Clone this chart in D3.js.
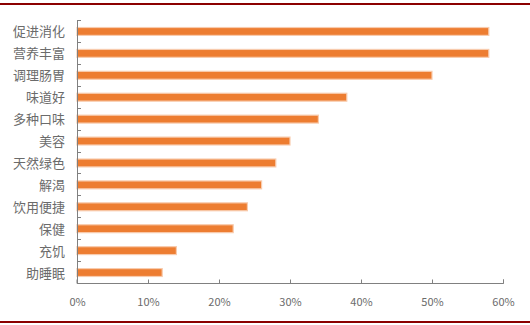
<!DOCTYPE html>
<html>
<head>
<meta charset="utf-8">
<script src="https://cdn.jsdelivr.net/npm/d3@7"></script>
<style>
  html, body { margin: 0; padding: 0; background: #fff; }
  svg { display: block; }
</style>
</head>
<body>
<svg id="chart" width="530" height="325"></svg>
<script>
// Reasons for drinking, share of respondents (%)
const categories = ["促进消化", "营养丰富", "调理肠胃", "味道好", "多种口味", "美容",
                    "天然绿色", "解渴", "饮用便捷", "保健", "充饥", "助睡眠"];
const shares = [58, 58, 50, 38, 34, 30, 28, 26, 24, 22, 14, 12];
const tickValues = [0, 10, 20, 30, 40, 50, 60];

const svg = d3.select("#chart");
const W = 530, H = 325;
const margin = { left: 77, right: 27, top: 20, bottom: 42 };
const cjk = "'Noto Sans CJK SC', 'Microsoft YaHei', sans-serif";

// Frame rules at top and bottom
svg.append("rect").attr("x", 0).attr("y", 3).attr("width", W).attr("height", 2).attr("fill", "#8B0000");
svg.append("rect").attr("x", 0).attr("y", 321).attr("width", W).attr("height", 2).attr("fill", "#8B0000");

const x = d3.scaleLinear().domain([0, 60]).range([margin.left, W - margin.right]);
const y = d3.scaleBand().domain(categories).range([margin.top, H - margin.bottom]).paddingInner(0.64).paddingOuter(0.32);
const band = d3.scaleBand().domain(categories).range([margin.top, H - margin.bottom]);

// Bars with a soft light edge
svg.append("g").selectAll("rect").data(categories).join("rect")
  .attr("x", x(0))
  .attr("y", (d) => y(d) + 0.5)
  .attr("width", (d, i) => x(shares[i]) - x(0))
  .attr("height", y.bandwidth())
  .attr("fill", "#ED7D31")
  .attr("stroke", "#F8CBAD")
  .attr("stroke-width", 1.2);

// Category axis (left) with inward ticks at band boundaries
const axisColor = "#808080";
svg.append("line")
  .attr("x1", x(0) + 0.5).attr("x2", x(0) + 0.5)
  .attr("y1", margin.top).attr("y2", H - margin.bottom)
  .attr("stroke", axisColor).attr("stroke-width", 1);
const boundaries = categories.map((d) => band(d));
svg.append("g").selectAll("line").data(boundaries).join("line")
  .attr("x1", x(0)).attr("x2", x(0) + 4)
  .attr("y1", (d) => Math.round(d) + 0.5).attr("y2", (d) => Math.round(d) + 0.5)
  .attr("stroke", axisColor);

svg.append("g").selectAll("text").data(categories).join("text")
  .attr("x", 65)
  .attr("y", (d) => band(d) + band.bandwidth() / 2)
  .attr("text-anchor", "end")
  .attr("dominant-baseline", "central")
  .attr("font-family", cjk)
  .attr("font-size", 13)
  .attr("fill", "#6b6b6b")
  .text((d) => d);

// Value axis (bottom) with inward ticks
const xAxis = d3.axisBottom(x)
  .tickValues(tickValues)
  .tickSize(-4)
  .tickPadding(15)
  .tickFormat((d) => d + "%");
const gx = svg.append("g")
  .attr("transform", `translate(0,${H - margin.bottom + 0.5})`)
  .call(xAxis);
gx.select(".domain").attr("stroke", axisColor).attr("d", `M${x(0)},-4V0H${x(60) + 0.5}V-4`);
gx.selectAll(".tick line").attr("stroke", axisColor);
gx.selectAll(".tick text")
  .attr("font-family", cjk)
  .attr("font-size", 11)
  .attr("fill", "#6b6b6b");
</script>
</body>
</html>
